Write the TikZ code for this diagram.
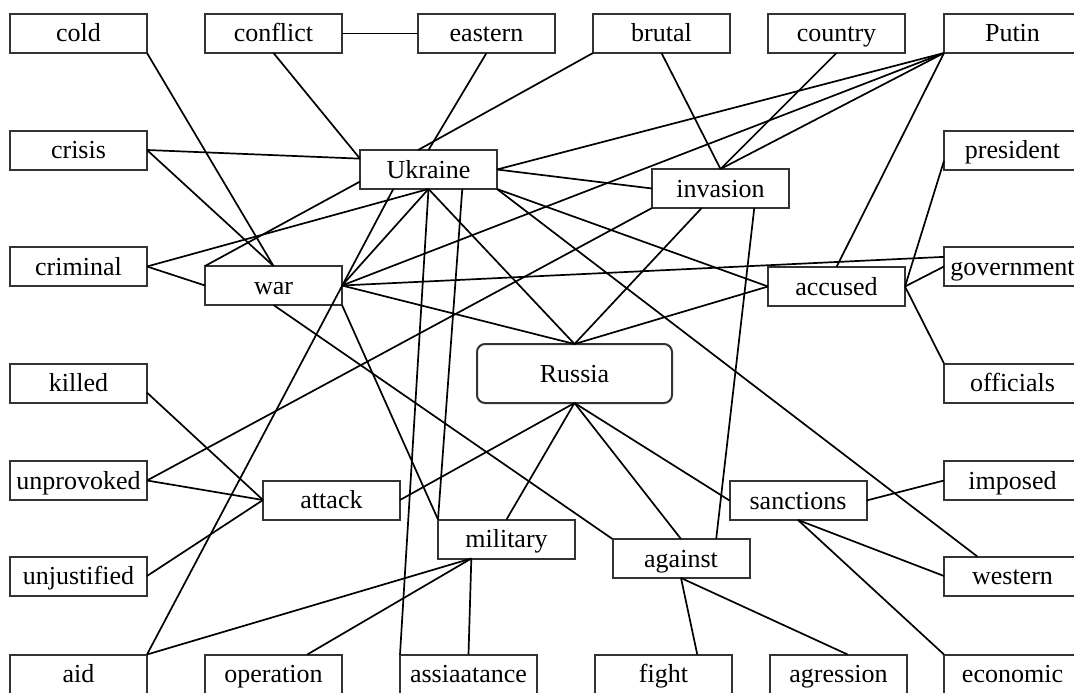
\documentclass[tikz,border=0pt]{standalone}
\usepackage{fontspec}
\setmainfont{Liberation Serif}
\usepackage{tikz}
\usetikzlibrary{positioning}

\begin{document}
\begin{tikzpicture}[x=1pt,y=-1pt,line width=1.7pt,
  box/.style={draw=black!80,line width=2pt,fill=white,minimum width=137pt,
    minimum height=39pt,inner sep=2pt,outer sep=0pt,text height=20pt,text depth=3pt,
    font=\fontsize{26}{30}\selectfont}]
\path[use as bounding box,fill=white] (0,0) rectangle (1074,693);
% top row
\node[box] (cold) at (78.5,33.5) {cold};
\node[box,right=58pt of cold] (conflict) {conflict};
\node[box,right=76pt of conflict] (eastern) {eastern};
\node[box,right=38pt of eastern] (brutal) {brutal};
\node[box,right=38pt of brutal] (country) {country};
\node[box,right=39pt of country] (putin) {Putin};
% left column
\node[box,below=77.5pt of cold] (crisis) {crisis};
\node[box,below=77.5pt of crisis] (criminal) {criminal};
\node[box,below=77.5pt of criminal] (killed) {killed};
\node[box,below=58.5pt of killed] (unprovoked) {unprovoked};
\node[box,below=56.5pt of unprovoked] (unjustified) {unjustified};
\node[box,below=59pt of unjustified] (aid) {aid};
% right column
\node[box,below=77.5pt of putin] (president) {president};
\node[box,below=77.5pt of president] (government) {government};
\node[box,below=77.5pt of government] (officials) {officials};
\node[box,below=58.5pt of officials] (imposed) {imposed};
\node[box,below=56.5pt of imposed] (western) {western};
\node[box,below=59pt of western] (economic) {economic};
% bottom row
\node[box,right=58pt of aid] (operation) {operation};
\node[box,right=58pt of operation] (assistance) {assiaatance};
\node[box,right=58pt of assistance] (fight) {fight};
\node[box,right=38pt of fight] (aggression) {agression};
% inner words
\node[box] (ukraine) at (428.5,169.5) {Ukraine};
\node[box,below=213pt of conflict] (war) {war};
\node[box] (invasion) at (720.5,188.5) {invasion};
\node[box,below=214pt of country] (accused) {accused};
\node[box,minimum width=195pt,minimum height=59pt,rounded corners=8pt] (russia) at (574.5,373.5) {Russia};
\node[box] (attack) at (331.5,500) {attack};
\node[box] (military) at (506.5,539) {military};
\node[box] (sanctions) at (798,500.5) {sanctions};
\node[box] (against) at (681,558.5) {against};

\draw (conflict.east) edge (eastern.west)
      (cold.south east) edge (war.north)
      (crisis.east) edge (war.north)
      (crisis.east) edge (ukraine.171)
      (conflict.south) edge (ukraine.171)
      (eastern.south) edge (ukraine.north)
      (brutal.south west) edge (ukraine.118)
      (criminal.east) edge (ukraine.south)
      (criminal.east) edge (war.west)
      (war.north west) edge (ukraine.190)
      (war.east) edge (ukraine.south)
      (aid.north east) edge (ukraine.209)
      (war.east) edge (putin.south west)
      (war.east) edge (government.172)
      (war.east) edge (russia.north)
      (war.south) edge (against.north west)
      (war.south east) edge (military.north west);
\draw (ukraine.east) edge (putin.south west)
      (ukraine.east) edge (invasion.west)
      (ukraine.south east) edge (accused.west)
      (ukraine.south east) edge (western.151)
      (ukraine.south) edge (russia.north)
      (ukraine.south) edge (assistance.north west)
      (ukraine.-30) edge (military.north west);
\draw (invasion.north) edge (brutal.south)
      (invasion.north) edge (country.south)
      (invasion.north) edge (putin.south west)
      (invasion.south west) edge (unprovoked.east)
      (invasion.226) edge (russia.north)
      (invasion.-30) edge (against.29)
      (accused.north) edge (putin.south west)
      (accused.west) edge (russia.north)
      (accused.east) edge (president.189)
      (accused.east) edge (government.west)
      (accused.east) edge (officials.north west);
\draw (killed.-8) edge (attack.west)
      (unprovoked.east) edge (attack.west)
      (unjustified.east) edge (attack.west)
      (attack.east) edge (russia.south)
      (military.north) edge (russia.south)
      (against.north) edge (russia.south)
      (sanctions.west) edge (russia.south)
      (sanctions.east) edge (imposed.west)
      (sanctions.south) edge (western.west)
      (sanctions.south) edge (economic.north west)
      (military.209) edge (aid.north east)
      (military.209) edge (operation.30)
      (military.209) edge (assistance.north)
      (against.south) edge (fight.30)
      (against.south) edge (aggression.65);
\end{tikzpicture}
\end{document}
